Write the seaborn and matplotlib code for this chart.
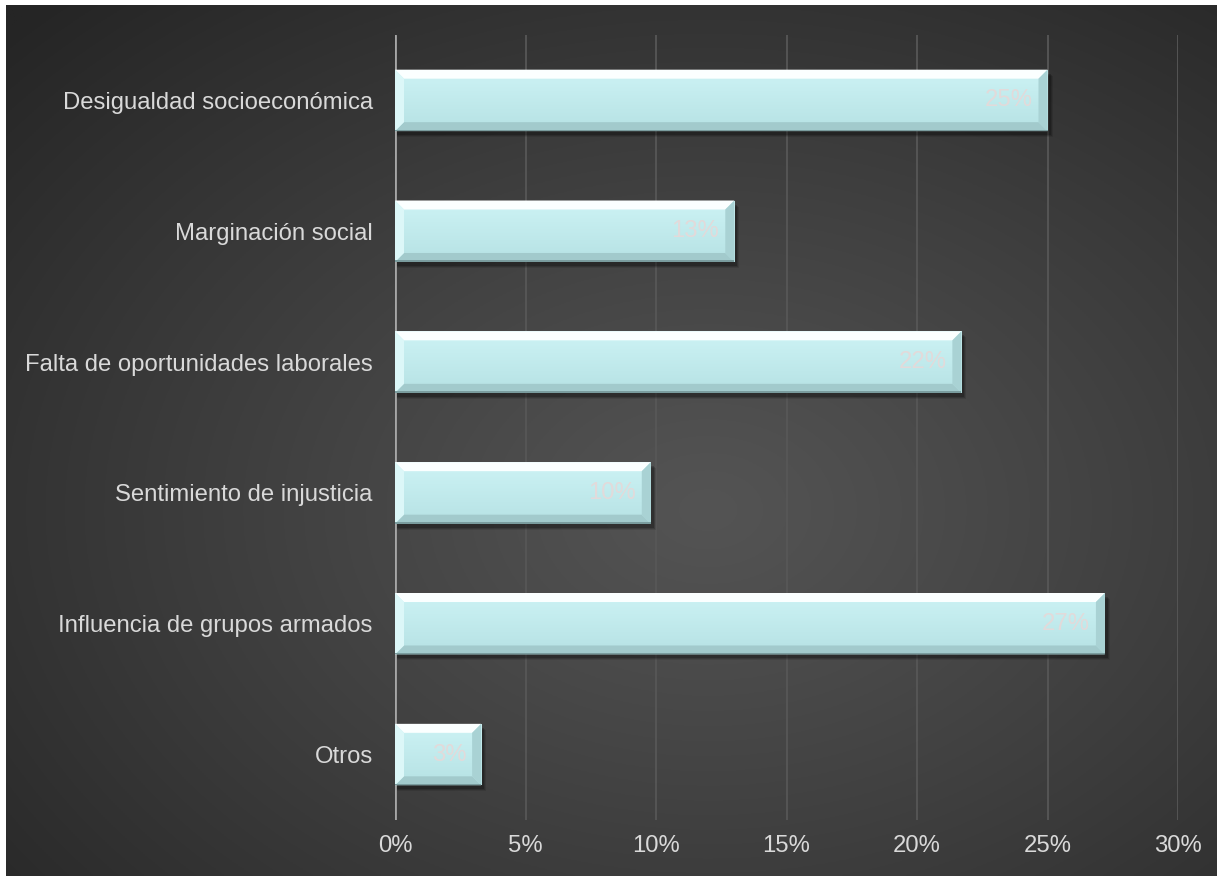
import numpy as np
import pandas as pd
import matplotlib
matplotlib.use("Agg")
import matplotlib.pyplot as plt
import seaborn as sns
from matplotlib.patches import Polygon, Rectangle
from matplotlib.transforms import IdentityTransform

# ---------------- data ----------------
categories = [
    "Desigualdad socioeconómica",
    "Marginación social",
    "Falta de oportunidades laborales",
    "Sentimiento de injusticia",
    "Influencia de grupos armados",
    "Otros",
]
values = [25.0, 13.0, 21.7, 9.8, 27.2, 3.3]
x_ticks = [0, 5, 10, 15, 20, 25, 30]
x_tick_labels = ["0%", "5%", "10%", "15%", "20%", "25%", "30%"]

df = pd.DataFrame({"category": categories, "value": values})

sns.set_theme(style="dark")
plt.rcParams["font.family"] = ["Liberation Sans", "DejaVu Sans"]

W, H = 1217, 876
fig = plt.figure(figsize=(W / 100, H / 100), dpi=100, facecolor="white")

# ---- radial gradient background ----
bg = fig.add_axes([6 / W, 0, 1 - 6 / W, 1 - 5 / H])
ny, nx = 440, 600
yy, xx = np.mgrid[0:1:ny * 1j, 0:1:nx * 1j]
cx, cy = 0.58, 0.58
r = np.sqrt(((xx - cx) / 0.80) ** 2 + ((yy - cy) / 0.80) ** 2)
r = np.clip(r, 0, 1)
c_in, c_out = 0x54 / 255, 0x25 / 255
g = c_in - (c_in - c_out) * r ** 1.1
img = np.dstack([g, g, g])
bg.imshow(img, aspect="auto", extent=[0, 1, 0, 1], origin="upper")
bg.set_axis_off()

# ---- main axes ----
ax = fig.add_axes([395 / W, 1 - 820 / H, (1178 - 395) / W, (820 - 35) / H])
ax.patch.set_alpha(0)

sns.barplot(data=df, y="category", x="value", orient="h", color="#c4eef0",
            saturation=1, width=0.47, edgecolor="none", ax=ax, zorder=3)

ax.set_xlim(0, 30)
ax.set_ylim(len(categories) - 0.5, -0.5)
ax.set_xticks(x_ticks)
ax.set_xticklabels(x_tick_labels)
ax.set_xlabel("")
ax.set_ylabel("")
for s in ax.spines.values():
    s.set_visible(False)
ax.xaxis.grid(True, color="#575757", lw=1.3)
ax.yaxis.grid(False)
ax.set_axisbelow(True)
ax.axvline(0, color="#a6a6a6", lw=2, zorder=2)
ax.tick_params(axis="y", colors="#d9d9d9", labelsize=17.2, pad=16, length=0)
ax.tick_params(axis="x", colors="#d9d9d9", labelsize=17.2, pad=11, length=0)

# ---- bevel / shadow decoration, computed from the drawn bars ----
d = 9
for p in list(ax.patches):
    x0, y0, w, h = p.get_x(), p.get_y(), p.get_width(), p.get_height()
    (L, T), (R, B) = ax.transData.transform([(x0, y0), (x0 + w, y0 + h)])
    T, B = max(T, B), min(T, B)
    # shadow
    for k, a in [(6, 0.10), (4, 0.15), (2, 0.2)]:
        ax.add_patch(Rectangle((L + 2, B - 3 - k / 2), R - L + k / 2, T - B, transform=IdentityTransform(),
                               facecolor="black", edgecolor="none", alpha=a, zorder=2.5))
    # face gradient
    grad = np.linspace(0, 1, 64).reshape(-1, 1)
    top_c = np.array([0xcd, 0xf3, 0xf5]) / 255
    bot_c = np.array([0xb6, 0xe2, 0xe4]) / 255
    gimg = top_c[None, None, :] * (1 - grad[:, :, None]) + bot_c[None, None, :] * grad[:, :, None]
    im = ax.imshow(gimg, extent=[x0, x0 + w, y0 + h, y0], aspect="auto", zorder=3.1, origin="upper")
    im.set_clip_path(p)
    # bevels
    bev = [
        ([(L, T), (R, T), (R - d, T - d), (L + d, T - d)], "#fbffff"),
        ([(L, B), (R, B), (R - d, B + d), (L + d, B + d)], "#a2cacc"),
        ([(L, B), (L, T), (L + d, T - d), (L + d, B + d)], "#dcf7f8"),
        ([(R, B), (R, T), (R - d, T - d), (R - d, B + d)], "#a9d2d4"),
    ]
    for pts, col in bev:
        ax.add_patch(Polygon(pts, closed=True, transform=IdentityTransform(),
                             facecolor=col, edgecolor="none", zorder=3.2))
    ax.add_patch(Rectangle((L, B), R - L, 1.5, transform=IdentityTransform(),
                           facecolor="#7a9c9e", edgecolor="none", zorder=3.3))

ax.set_xlim(0, 30)
ax.set_ylim(len(categories) - 0.5, -0.5)

# ---- value labels ----
off = 15 / ((1178 - 395) / 30)
for i, v in enumerate(values):
    ax.text(v - off, i, f"{round(v):.0f}%", ha="right", va="center",
            color="#e2dada", fontsize=17.2, zorder=5)

fig.savefig("out.png", dpi=100, facecolor="white")
